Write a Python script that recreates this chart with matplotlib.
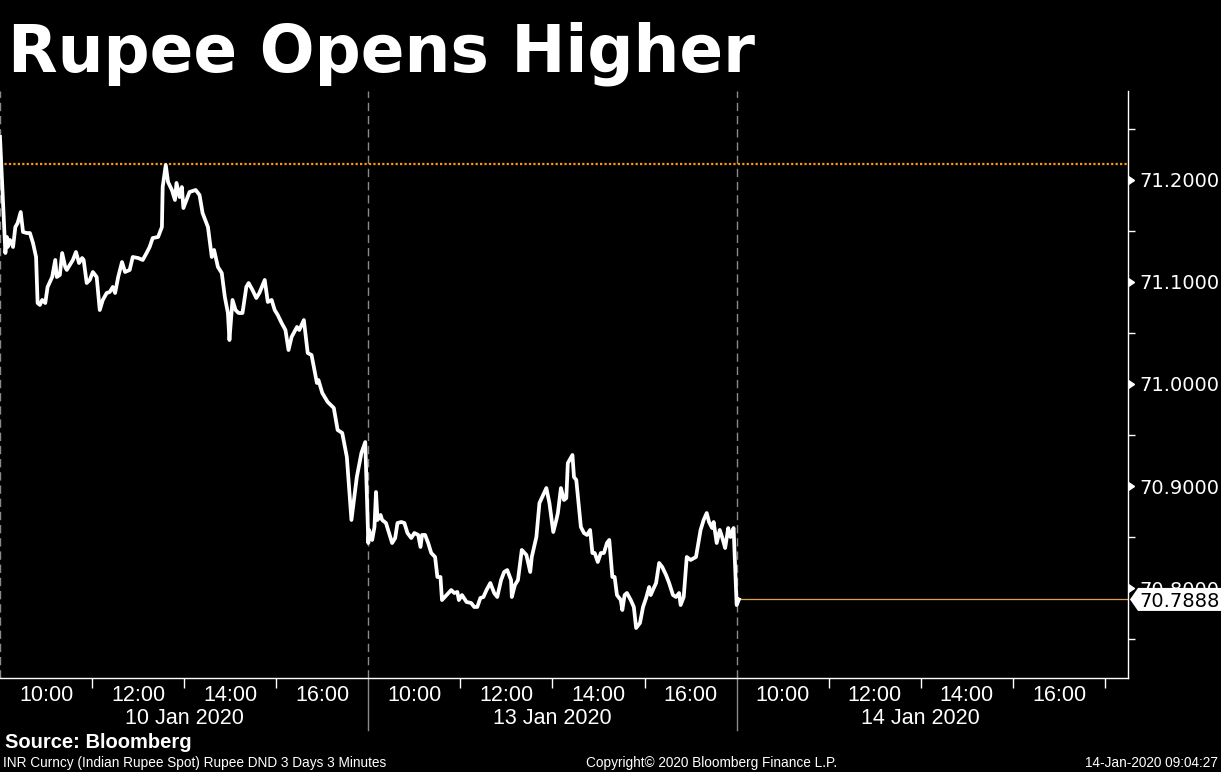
import matplotlib
matplotlib.use("Agg")
import matplotlib.pyplot as plt
import matplotlib.lines as mlines
from matplotlib.patches import Polygon
from matplotlib.transforms import IdentityTransform

# USD/INR spot, 3 sessions, minutes after 09:00 local
jan10_min = [0, 3, 7, 9, 10, 13, 16, 17, 20, 23, 27, 30, 35, 39, 43, 47, 49, 52, 55, 59,
             62, 68, 72, 74, 78, 81, 85, 87, 91, 95, 99, 103, 107, 109, 113, 117, 121, 126, 130, 134,
             139, 143, 147, 150, 154, 159, 163, 169, 173, 180, 186, 191, 195, 199, 206, 211, 212, 216, 219, 224,
             228, 230, 234, 237, 239, 243, 247, 251, 255, 260, 264, 271, 276, 279, 284, 289, 293, 297, 299, 303,
             307, 311, 316, 321, 324, 329, 334, 338, 345, 349, 354, 358, 362, 367, 372, 376, 380, 387, 390, 396,
             401, 406, 413, 415, 420, 427, 435, 440, 446, 452, 458, 465, 471, 476]
jan10_inr = [71.2422, 71.1931, 71.1284, 71.1441, 71.1343, 71.1412, 71.1363, 71.1343, 71.1539, 71.1578,
             71.1686, 71.1490, 71.1480, 71.1480, 71.1382, 71.1245, 71.0794, 71.0775, 71.0824, 71.0794,
             71.0951, 71.1049, 71.1216, 71.1049, 71.1069, 71.1284, 71.1147, 71.1118, 71.1167, 71.1216,
             71.1294, 71.1186, 71.1235, 71.1216, 71.0990, 71.1020, 71.1098, 71.1049, 71.0725, 71.0824,
             71.0892, 71.0902, 71.0951, 71.0892, 71.1049, 71.1196, 71.1098, 71.1118, 71.1245, 71.1235,
             71.1216, 71.1284, 71.1343, 71.1431, 71.1441, 71.1539, 71.1931, 71.2147, 71.1980, 71.1902,
             71.1804, 71.1971, 71.1833, 71.1931, 71.1725, 71.1804, 71.1882, 71.1892, 71.1902, 71.1853,
             71.1676, 71.1539, 71.1245, 71.1314, 71.1147, 71.1088, 71.0853, 71.0696, 71.0431, 71.0824,
             71.0725, 71.0696, 71.0696, 71.0951, 71.0990, 71.0922, 71.0843, 71.0892, 71.1020, 71.0804,
             71.0824, 71.0725, 71.0676, 71.0598, 71.0529, 71.0333, 71.0461, 71.0559, 71.0529, 71.0627,
             71.0304, 71.0284, 71.0010, 71.0039, 70.9912, 70.9824, 70.9765, 70.9549, 70.9520, 70.9284,
             70.8667, 70.9088, 70.9324, 70.9431]

jan13_min = [0, 1, 5, 8, 10, 12, 16, 18, 23, 27, 31, 35, 38, 43, 47, 51, 56, 60, 65, 68,
             70, 74, 78, 82, 87, 90, 94, 96, 102, 108, 112, 116, 118, 122, 128, 134, 138, 142, 146, 150,
             154, 159, 164, 168, 173, 177, 181, 186, 187, 191, 195, 200, 206, 211, 213, 219, 223, 226, 232, 236,
             241, 245, 247, 251, 255, 258, 260, 266, 268, 271, 277, 281, 285, 289, 292, 295, 299, 303, 307, 311,
             314, 318, 321, 324, 329, 331, 334, 337, 342, 346, 349, 354, 358, 362, 366, 368, 372, 375, 379, 383,
             388, 392, 397, 401, 405, 407, 411, 415, 420, 427, 433, 437, 441, 444, 448, 450, 454, 458, 461, 465,
             469, 472, 476]
jan13_inr = [70.8441, 70.8569, 70.8471, 70.8598, 70.8941, 70.8667, 70.8716, 70.8667, 70.8637, 70.8539,
             70.8441, 70.8490, 70.8637, 70.8647, 70.8637, 70.8539, 70.8490, 70.8539, 70.8520, 70.8402,
             70.8520, 70.8520, 70.8441, 70.8343, 70.8304, 70.8108, 70.8108, 70.7882, 70.7931, 70.7980,
             70.7951, 70.7961, 70.7882, 70.7931, 70.7863, 70.7853, 70.7814, 70.7814, 70.7902, 70.7912,
             70.7980, 70.8049, 70.7951, 70.7912, 70.8078, 70.8157, 70.8176, 70.8078, 70.7912, 70.8029,
             70.8078, 70.8373, 70.8324, 70.8157, 70.8304, 70.8500, 70.8833, 70.8882, 70.8980, 70.8833,
             70.8549, 70.8667, 70.8735, 70.8980, 70.8863, 70.8882, 70.9225, 70.9304, 70.9088, 70.9059,
             70.8598, 70.8539, 70.8520, 70.8569, 70.8343, 70.8343, 70.8255, 70.8343, 70.8343, 70.8441,
             70.8471, 70.8108, 70.8108, 70.7931, 70.7882, 70.7784, 70.7931, 70.7951, 70.7882, 70.7814,
             70.7608, 70.7657, 70.7814, 70.7902, 70.8010, 70.7931, 70.8000, 70.8049, 70.8245, 70.8206,
             70.8127, 70.8049, 70.7931, 70.7912, 70.7951, 70.7833, 70.7912, 70.8304, 70.8275, 70.8304,
             70.8569, 70.8667, 70.8735, 70.8647, 70.8588, 70.8647, 70.8441, 70.8569, 70.8500, 70.8392,
             70.8588, 70.8500, 70.8588]

jan14_min = [0, 3]
jan14_inr = [70.7833, 70.7888]

last_px = 70.7888
prev_high = 71.2157
session_len = 480
day_labels = ["10 Jan 2020", "13 Jan 2020", "14 Jan 2020"]
hour_labels = ["10:00", "12:00", "14:00", "16:00"]
y_ticks = [70.8, 70.9, 71.0, 71.1, 71.2]

narrow = "Liberation Sans"

x = (jan10_min + [m + session_len for m in jan13_min]
     + [m + 2 * session_len for m in jan14_min])
y = jan10_inr + jan13_inr + jan14_inr

fig = plt.figure(figsize=(12.21, 7.72), dpi=100, facecolor="black")
ax = fig.add_axes([0, 0.1218, 1128 / 1221, 0.7604], facecolor="black")

ax.set_xlim(0, 1470)
ax.set_ylim(70.7118, 71.2873)

ax.axhline(prev_high, color="#ff9a00", lw=1.6, ls=(0, (1, 1)), zorder=2)
for s in range(3):
    ax.axvline(s * session_len, color="#8a8a8a", lw=1, ls=(0, (6, 3.5)), zorder=1)
    if s > 0:
        ax.add_line(mlines.Line2D([s * session_len] * 2, [0, -0.0886], color="#8a8a8a", lw=1,
                                  transform=ax.get_xaxis_transform(), clip_on=False))

ax.plot(x, y, color="white", lw=2.7, zorder=3, solid_joinstyle="round")
ax.plot([x[-1], 1470], [last_px, last_px], color="#e0a050", lw=0.9, zorder=2)

for sp in ["left", "top"]:
    ax.spines[sp].set_visible(False)
for sp in ["right", "bottom"]:
    ax.spines[sp].set_color("white")
    ax.spines[sp].set_linewidth(1)

# y axis on the right, caret marks for majors, short lines for minors
ax.yaxis.tick_right()
ax.set_yticks(y_ticks)
ax.set_yticklabels(["%.4f" % v for v in y_ticks])
ax.set_yticks([v + 0.05 for v in [70.7] + y_ticks], minor=True)
ax.tick_params(axis="y", which="major", length=0, pad=8, labelsize=14, labelcolor="white")
ax.tick_params(axis="y", which="minor", length=5, width=1, color="white", direction="out")
ax.plot([1] * len(y_ticks), y_ticks, ls="none", marker=9, ms=6, color="white",
        transform=ax.get_yaxis_transform(), clip_on=False)

# x axis: tick marks every 2h, labels between
major_x = [s * session_len + h for s in range(3) for h in (120, 240, 360)] + [1440]
minor_x = [s * session_len + h for s in range(3) for h in (60, 180, 300, 420)]
ax.set_xticks(major_x)
ax.set_xticklabels([])
ax.set_xticks(minor_x, minor=True)
ax.set_xticklabels(hour_labels * 3, minor=True)
ax.tick_params(axis="x", which="major", length=7, width=1, color="white")
ax.tick_params(axis="x", which="minor", length=0, pad=5, labelcolor="white", labelsize=15.5)
for lab in ax.get_xticklabels(minor=True):
    lab.set_family(narrow)
for s, d in enumerate(day_labels):
    ax.text(s * session_len + 240, -0.069, d, transform=ax.get_xaxis_transform(), color="white",
            fontsize=15.5, family=narrow, ha="center", va="center")

# last value flag: white box with a point at the axis, drawn in pixels
x0, y0 = ax.get_yaxis_transform().transform((1, last_px))
flag = Polygon([(x0 + 2, y0), (x0 + 10, y0 + 11.5), (x0 + 93, y0 + 11.5),
                (x0 + 93, y0 - 11.5), (x0 + 10, y0 - 11.5)], closed=True,
               fc="white", ec="none", transform=IdentityTransform(), zorder=10)
fig.patches.append(flag)
fig.text(x0 + 11, y0, "%.4f" % last_px, transform=IdentityTransform(), color="black",
         fontsize=14, ha="left", va="center_baseline", zorder=11)

fig.text(8 / 1221, 1 - 72 / 772, "Rupee Opens Higher", color="white", fontsize=46.5,
         fontweight="bold", va="baseline", ha="left")
fig.text(5 / 1221, 1 - 743 / 772, "Source: Bloomberg", color="white", fontsize=14.5,
         fontweight="bold", family=narrow, va="center", ha="left")
fig.text(3 / 1221, 1 - 763 / 772, "INR Curncy (Indian Rupee Spot) Rupee DND 3 Days 3 Minutes",
         color="white", fontsize=9.8, family=narrow, va="center", ha="left")
fig.text(712 / 1221, 1 - 763 / 772, "Copyright\u00a9 2020 Bloomberg Finance L.P.",
         color="white", fontsize=9.8, family=narrow, va="center", ha="center")
fig.text(1218 / 1221, 1 - 763 / 772, "14-Jan-2020 09:04:27",
         color="white", fontsize=9.8, family=narrow, va="center", ha="right")

fig.savefig("out.png", dpi=100, facecolor="black")
